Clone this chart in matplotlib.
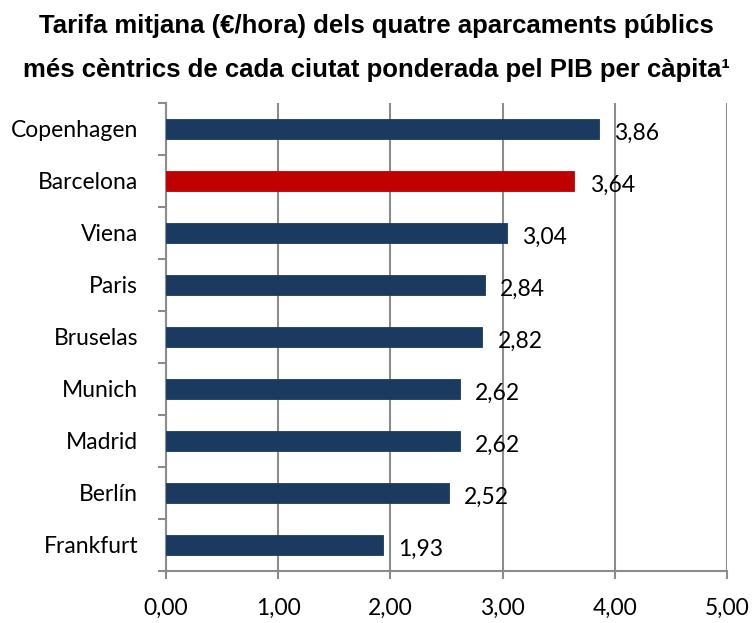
import matplotlib
matplotlib.use("Agg")
import matplotlib.pyplot as plt

# Data (top to bottom)
cities = ["Copenhagen", "Barcelona", "Viena", "Paris", "Bruselas",
          "Munich", "Madrid", "Berlín", "Frankfurt"]
values = [3.86, 3.64, 3.04, 2.84, 2.82, 2.62, 2.62, 2.52, 1.93]
highlight = "Barcelona"
xticks = [0, 1, 2, 3, 4, 5]

navy = "#1B3A5F"
red = "#C00000"
grid_gray = "#8C8C8C"
label_font = "Lato"
fs = 16.5

fig = plt.figure(figsize=(7.52, 6.23), dpi=100)
ax = fig.add_axes([0.2207, 0.0835, 0.746, 0.7512])

pos = list(range(len(cities)))
colors = [red if c == highlight else navy for c in cities]
ax.barh(pos, values, height=0.4, color=colors, edgecolor=colors, linewidth=0.6,
        zorder=3)

for p, v in zip(pos, values):
    ax.annotate(f"{v:.2f}".replace(".", ","), xy=(v, p), xytext=(11, -3),
                textcoords="offset points", ha="left", va="center",
                fontsize=fs, family=label_font, color="black", zorder=4)

ax.set_xlim(0, 5)
ax.set_ylim(len(cities) - 0.5, -0.5)
ax.set_xticks(xticks)
ax.set_xticklabels([f"{t:.2f}".replace(".", ",") for t in xticks],
                   fontsize=fs, family=label_font)
ax.set_yticks([p + 0.5 for p in [-1] + pos], minor=False)
ax.set_yticklabels([])
ax.set_yticks(pos, minor=True)
ax.set_yticklabels(cities, minor=True, fontsize=fs, family=label_font)
ax.tick_params(axis="y", which="minor", length=0, pad=20)
ax.tick_params(axis="y", which="major", length=6, color=grid_gray, width=1.5)
ax.tick_params(axis="x", length=6, color=grid_gray, width=1.5, pad=13)

ax.grid(axis="x", color=grid_gray, linewidth=1.5, zorder=0)
for side in ["top", "right"]:
    ax.spines[side].set_visible(False)
for side in ["left", "bottom"]:
    ax.spines[side].set_color(grid_gray)
    ax.spines[side].set_linewidth(1.5)

fig.text(0.5, 0.958, "Tarifa mitjana (€/hora) dels quatre aparcaments públics",
         ha="center", va="center", fontsize=18.5, fontweight="bold",
         family="Liberation Sans")
fig.text(0.5, 0.887, "més cèntrics de cada ciutat ponderada pel PIB per càpita¹",
         ha="center", va="center", fontsize=18.5, fontweight="bold",
         family="Liberation Sans")

fig.savefig("out.png", dpi=100)
